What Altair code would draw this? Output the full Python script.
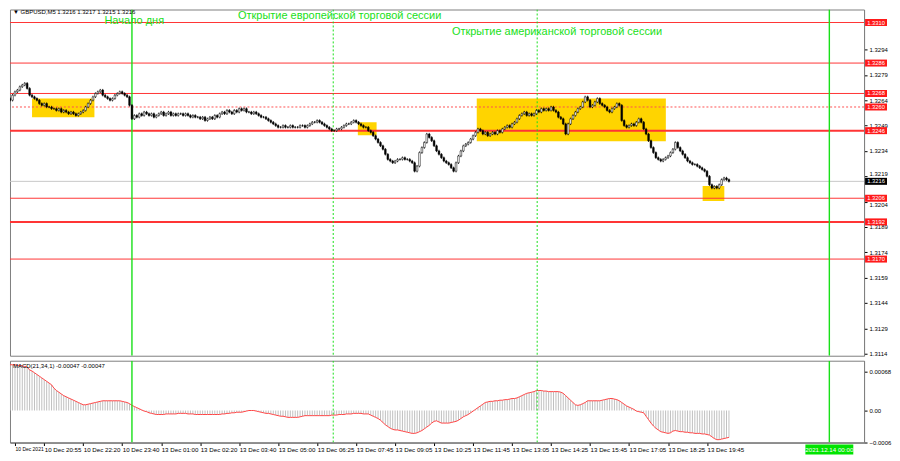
import json
import altair as alt
import pandas as pd

# ---------------- data ----------------
base_price = 1.3200
# M5 closes, in pips above 1.3200, one per bar
close_pips = [
    63, 65, 64, 67, 69, 70, 72, 73, 74, 71,
    67, 66, 65, 64, 62, 61, 62, 60, 60, 59,
    59, 58, 59, 57, 58, 57, 56, 57, 56, 55,
    56, 57, 58, 60, 62, 64, 66, 68, 69, 70,
    67, 66, 65, 64, 65, 67, 68, 69, 68, 67,
    66, 61, 53, 55, 54, 56, 55, 57, 56, 55,
    56, 54, 55, 56, 57, 55, 56, 57, 55, 56,
    55, 56, 56, 55, 56, 55, 54, 55, 54, 54,
    53, 54, 52, 53, 54, 53, 55, 54, 56, 57,
    56, 58, 57, 56, 58, 57, 59, 58, 59, 57,
    57, 56, 57, 56, 55, 54, 54, 53, 52, 51,
    50, 49, 48, 48, 49, 48, 48, 49, 48, 48,
    48, 49, 49, 48, 49, 50, 51, 51, 52, 51,
    50, 49, 48, 47, 46, 46, 47, 47, 48, 49,
    50, 50, 51, 52, 51, 50, 49, 48, 48, 46,
    45, 43, 41, 39, 37, 35, 32, 29, 28, 27,
    28, 29, 29, 30, 29, 29, 28, 27, 22, 25,
    33, 36, 39, 44, 42, 40, 37, 34, 32, 30,
    28, 27, 26, 24, 22, 27, 31, 34, 37, 38,
    39, 41, 43, 45, 47, 46, 44, 45, 43, 44,
    45, 44, 46, 45, 47, 48, 49, 48, 50, 51,
    53, 55, 56, 57, 55, 56, 55, 56, 58, 57,
    59, 58, 59, 58, 60, 58, 57, 54, 53, 50,
    44, 50, 53, 55, 57, 59, 60, 63, 66, 64,
    60, 61, 63, 65, 62, 61, 60, 58, 57, 59,
    60, 62, 61, 52, 49, 48, 49, 50, 49, 51,
    53, 51, 47, 44, 40, 36, 33, 30, 29, 28,
    29, 30, 31, 33, 35, 39, 36, 34, 32, 30,
    28, 27, 26, 26, 25, 24, 23, 22, 19, 14,
    12, 13, 12, 14, 17, 18, 17, 16,
]
# MACD(21,34,1) main value per bar, in units of 1e-5
macd_e5 = [
    80, 80, 80, 80, 80, 79, 79, 78, 77, 76,
    71, 69, 66, 63, 60, 57, 54, 51, 48, 45,
    39, 35, 32, 29, 26, 24, 22, 20, 18, 16,
    14, 12, 10, 10, 11, 12, 13, 14, 15, 16,
    17, 17, 17, 17, 17, 17, 17, 17, 16, 15,
    14, 12, 9, 7, 5, 3, 1, -1, -2, -4,
    -5, -6, -7, -7, -7, -7, -6, -6, -6, -6,
    -6, -5, -5, -5, -5, -6, -6, -6, -7, -7,
    -7, -7, -7, -7, -7, -7, -7, -7, -7, -6,
    -6, -5, -5, -4, -4, -3, -3, -3, -2, -1,
    0, 0, 0, -1, -2, -3, -4, -5, -5, -6,
    -7, -8, -9, -10, -10, -11, -12, -12, -12, -12,
    -12, -11, -10, -9, -9, -9, -9, -9, -9, -9,
    -9, -9, -9, -9, -8, -8, -8, -7, -7, -7,
    -6, -6, -6, -5, -5, -5, -5, -6, -6, -6,
    -8, -10, -12, -14, -17, -21, -25, -28, -31, -33,
    -34, -34, -35, -36, -37, -38, -39, -40, -40, -39,
    -37, -35, -32, -29, -26, -22, -19, -18, -20, -22,
    -22, -22, -22, -21, -20, -19, -17, -14, -11, -9,
    -7, -4, -1, 2, 5, 8, 11, 14, 15, 16,
    16, 17, 17, 18, 18, 19, 19, 20, 21, 21,
    22, 24, 26, 28, 30, 31, 32, 33, 35, 35,
    35, 34, 34, 33, 33, 33, 33, 33, 32, 30,
    26, 22, 18, 14, 10, 9, 10, 12, 14, 17,
    17, 17, 17, 17, 17, 18, 19, 20, 21, 21,
    20, 19, 17, 14, 11, 8, 6, 4, 2, -1,
    -2, -3, -4, -10, -16, -22, -27, -31, -34, -37,
    -38, -39, -40, -39, -36, -35, -36, -37, -37, -38,
    -38, -39, -39, -40, -40, -40, -41, -41, -42, -43,
    -46, -49, -51, -51, -50, -49, -48, -47,
]

time_labels = ["10 Dec 2021", "10 Dec 20:55", "10 Dec 22:20", "10 Dec 23:40",
               "13 Dec 01:00", "13 Dec 02:20", "13 Dec 03:40", "13 Dec 05:00",
               "13 Dec 06:25", "13 Dec 07:45", "13 Dec 09:05", "13 Dec 10:25",
               "13 Dec 11:45", "13 Dec 13:05", "13 Dec 14:25", "13 Dec 15:45",
               "13 Dec 17:05", "13 Dec 18:25", "13 Dec 19:45"]
# bar index under each time label (the first one marks the first visible bar)
time_label_bars = [4, 16, 32, 48, 64, 80, 96, 112, 128, 144, 160, 176,
                   192, 208, 224, 240, 256, 272, 288]

level_prices = [1.3310, 1.3286, 1.3268, 1.3260, 1.3246, 1.3206, 1.3192, 1.3170]
level_kinds = ["thin", "thin", "thin", "dotted", "thick", "thin", "thick", "thin"]
current_price = 1.3216
price_ticks = [1.3294, 1.3279, 1.3264, 1.3249, 1.3234, 1.3219, 1.3204,
               1.3189, 1.3174, 1.3159, 1.3144, 1.3129, 1.3114]
macd_ticks = [0.00068, 0.0, -0.00056]

zone_start = [11.0, 144.7, 193.5, 286.2]
zone_end = [36.6, 152.4, 271.1, 295.1]
zone_top = [1.32651, 1.32509, 1.32651, 1.32132]
zone_bottom = [1.32539, 1.32433, 1.32397, 1.32043]

vline_bars = [52.0, 338.2, 134.6, 218.3]
vline_kinds = ["solid", "solid", "dotted", "dotted"]
next_day_bar = 338.2
next_day_label = "2021.12.14 00:00"

note_texts = ["Начало дня", "Открытие европейской торговой сессии",
              "Открытие американской торговой сессии"]
note_bars = [40.7, 95.5, 183.3]
note_prices = [1.33110, 1.33141, 1.33041]

header_text = "▼ GBPUSD,M5  1.3216 1.3217 1.3215 1.3216"
macd_text = "MACD(21,34,1) -0.00047 -0.00047"

# ---------------- layout / style ----------------
W = 856
H_MAIN = 347
H_MACD = 82
FONT = "Liberation Sans"
WICK = 0.00007
RED = "#ff3535"
LIME = "#19e019"

opens = [close_pips[0]] + close_pips[:-1]
rows = []
for i, (o, c) in enumerate(zip(opens, close_pips)):
    po = base_price + o / 10000.0
    pc = base_price + c / 10000.0
    rows.append({"i": i, "o": po, "c": pc, "bull": c >= o,
                 "lo": min(po, pc) - WICK, "hi": max(po, pc) + WICK})
candles = pd.DataFrame(rows)
macd_df = pd.DataFrame({"i": list(range(len(macd_e5))),
                        "m": [v / 100000.0 for v in macd_e5]})
levels = pd.DataFrame({"p": level_prices, "k": level_kinds,
                       "lab": [f"{p:.4f}" for p in level_prices]})
cur_df = pd.DataFrame({"p": [current_price], "lab": [f"{current_price:.4f}"]})
zones = pd.DataFrame({"x0": zone_start, "x1": zone_end, "top": zone_top, "bot": zone_bottom})
vlines = pd.DataFrame({"b": vline_bars, "k": vline_kinds})
notes = pd.DataFrame({"t": note_texts, "b": note_bars, "p": note_prices})

xs = alt.Scale(domain=[4.0, 350.4], nice=False, zero=False)
ys_main = alt.Scale(domain=[1.31128, 1.33177], nice=False, zero=False)
ys_macd = alt.Scale(domain=[-0.00056, 0.000871], nice=False, zero=False)

# tick labels sitting right next to a price box are nudged off it, as in the terminal
main_y_axis = alt.Axis(orient="right", values=price_ticks, format=".4f", title=None,
                       grid=False, labelFontSize=6, labelFont=FONT, labelColor="black",
                       labelBaseline={"condition": [
                           {"test": "datum.value == 1.3204", "value": "top"},
                           {"test": "datum.value == 1.3219", "value": "bottom"}],
                           "value": "middle"},
                       tickSize=3, tickColor="black", labelPadding=2,
                       domainColor="#808080", labelOverlap=False)
macd_y_axis = alt.Axis(orient="right", values=macd_ticks, title=None, grid=False,
                       labelExpr="datum.value == 0 ? '0.00' : (datum.value < 0 ? format(datum.value, '.4f') : format(datum.value, '.5f'))",
                       labelFontSize=6, labelFont=FONT, labelColor="black",
                       tickSize=3, tickColor="black", labelPadding=2,
                       domainColor="#808080", labelOverlap=False)
time_expr = (json.dumps(time_labels, ensure_ascii=False) + "[indexof("
             + json.dumps(time_label_bars) + ", datum.value)]")
first_tick = time_label_bars[0]
time_axis = alt.Axis(orient="bottom", values=time_label_bars, labelExpr=time_expr,
                     title=None, grid=False, labelAlign="left",
                     labelFontSize={"condition": {"test": f"datum.value == {first_tick}",
                                                  "value": 5},
                                    "value": 6.2},
                     labelFont=FONT, labelColor="black", tickSize=3, tickColor="black",
                     labelPadding=1, labelBaseline="top", domainColor="#606060",
                     labelOverlap=False, labelFlush=False)


def XM(f):
    return alt.X(f, type="quantitative", scale=xs, axis=None)


def YM(f):
    return alt.Y(f, type="quantitative", scale=ys_main, axis=main_y_axis)


def XB(f):
    return alt.X(f, type="quantitative", scale=xs, axis=time_axis)


def YB(f):
    return alt.Y(f, type="quantitative", scale=ys_macd, axis=macd_y_axis)


# ---------------- main price panel ----------------
zone_layer = alt.Chart(zones).mark_rect(color="#ffd400", clip=True).encode(
    x=XM("x0"), x2="x1", y=YM("top"), y2="bot")
lvl_thin = alt.Chart(levels).transform_filter("datum.k == 'thin'").mark_rule(
    color=RED, strokeWidth=1).encode(y=YM("p"))
lvl_thick = alt.Chart(levels).transform_filter("datum.k == 'thick'").mark_rule(
    color=RED, strokeWidth=2).encode(y=YM("p"))
lvl_dot = alt.Chart(levels).transform_filter("datum.k == 'dotted'").mark_rule(
    color="#ff5050", strokeWidth=1, strokeDash=[2, 2]).encode(y=YM("p"))
cur_line = alt.Chart(cur_df).mark_rule(color="#c8c8c8", strokeWidth=1).encode(y=YM("p"))
v_solid = alt.Chart(vlines).transform_filter("datum.k == 'solid'").mark_rule(
    color=LIME, strokeWidth=1.4, clip=True).encode(x=XM("b"))
v_dot = alt.Chart(vlines).transform_filter("datum.k == 'dotted'").mark_rule(
    color=LIME, strokeWidth=1, strokeDash=[2, 2], clip=True).encode(x=XM("b"))
wicks = alt.Chart(candles).mark_rule(color="black", strokeWidth=0.8, clip=True).encode(
    x=XM("i"), y=YM("lo"), y2="hi")
bodies = alt.Chart(candles).mark_bar(width=1.7, stroke="black", strokeWidth=0.5,
                                     clip=True).encode(
    x=XM("i"), y=YM("o"), y2="c",
    fill=alt.condition("datum.bull", alt.value("white"), alt.value("black")))
note_layer = alt.Chart(notes).mark_text(align="left", baseline="middle", fontSize=11,
                                        font=FONT, color=LIME).encode(
    x=XM("b"), y=YM("p"), text="t:N")
header = alt.Chart(pd.DataFrame({"t": [header_text]})).mark_text(
    align="left", baseline="top", fontSize=6, font=FONT, color="black").encode(
    x=alt.value(3), y=alt.value(0), text="t:N")
lvl_box = alt.Chart(levels).mark_tick(orient="horizontal", size=22, thickness=7,
                                      opacity=1, color="#ff1a1a").encode(
    y=YM("p"), x=alt.value(W + 12))
lvl_txt = alt.Chart(levels).mark_text(align="center", baseline="middle", fontSize=5.8,
                                      font=FONT, color="white").encode(
    y=YM("p"), x=alt.value(W + 12), text="lab:N")
cur_box = alt.Chart(cur_df).mark_tick(orient="horizontal", size=22, thickness=7,
                                      opacity=1, color="black").encode(
    y=YM("p"), x=alt.value(W + 12))
cur_txt = alt.Chart(cur_df).mark_text(align="center", baseline="middle", fontSize=5.8,
                                      font=FONT, color="white").encode(
    y=YM("p"), x=alt.value(W + 12), text="lab:N")

main = alt.layer(zone_layer, lvl_thin, lvl_thick, lvl_dot, cur_line, v_solid, v_dot,
                 wicks, bodies, note_layer, header, lvl_box, lvl_txt, cur_box,
                 cur_txt).properties(width=W, height=H_MAIN)

# ---------------- MACD panel ----------------
hist = alt.Chart(macd_df).mark_bar(width=1, color="#c0c0c0", clip=True).encode(
    x=XB("i"), y=YB("m"), y2=alt.datum(0))
sig = alt.Chart(macd_df).mark_line(color="#ff4545", strokeWidth=1, clip=True).encode(
    x=XB("i"), y=YB("m"))
v_solid_b = alt.Chart(vlines).transform_filter("datum.k == 'solid'").mark_rule(
    color=LIME, strokeWidth=1.4, clip=True).encode(x=XB("b"))
v_dot_b = alt.Chart(vlines).transform_filter("datum.k == 'dotted'").mark_rule(
    color=LIME, strokeWidth=1, strokeDash=[2, 2], clip=True).encode(x=XB("b"))
macd_label = alt.Chart(pd.DataFrame({"t": [macd_text]})).mark_text(
    align="left", baseline="top", fontSize=6, font=FONT, color="black").encode(
    x=alt.value(3), y=alt.value(2), text="t:N")
day_df = pd.DataFrame({"b": [next_day_bar], "t": [next_day_label]})
day_box = alt.Chart(day_df).mark_tick(orient="horizontal", size=48, thickness=10,
                                      opacity=1, color="#00e400").encode(
    x=XB("b"), y=alt.value(H_MACD + 7))
day_txt = alt.Chart(day_df).mark_text(align="center", baseline="middle", fontSize=6.2,
                                      font=FONT, color="white").encode(
    x=XB("b"), y=alt.value(H_MACD + 7), text="t:N")

macd = alt.layer(hist, sig, v_solid_b, v_dot_b, macd_label, day_box,
                 day_txt).properties(width=W, height=H_MACD)

chart = alt.vconcat(main, macd, spacing=2).resolve_scale(
    x="independent", y="independent").properties(
    padding=0, background="white").configure_view(stroke="#808080", strokeWidth=1)

chart.save("out.html", embed_options={"renderer": "svg", "actions": False})
